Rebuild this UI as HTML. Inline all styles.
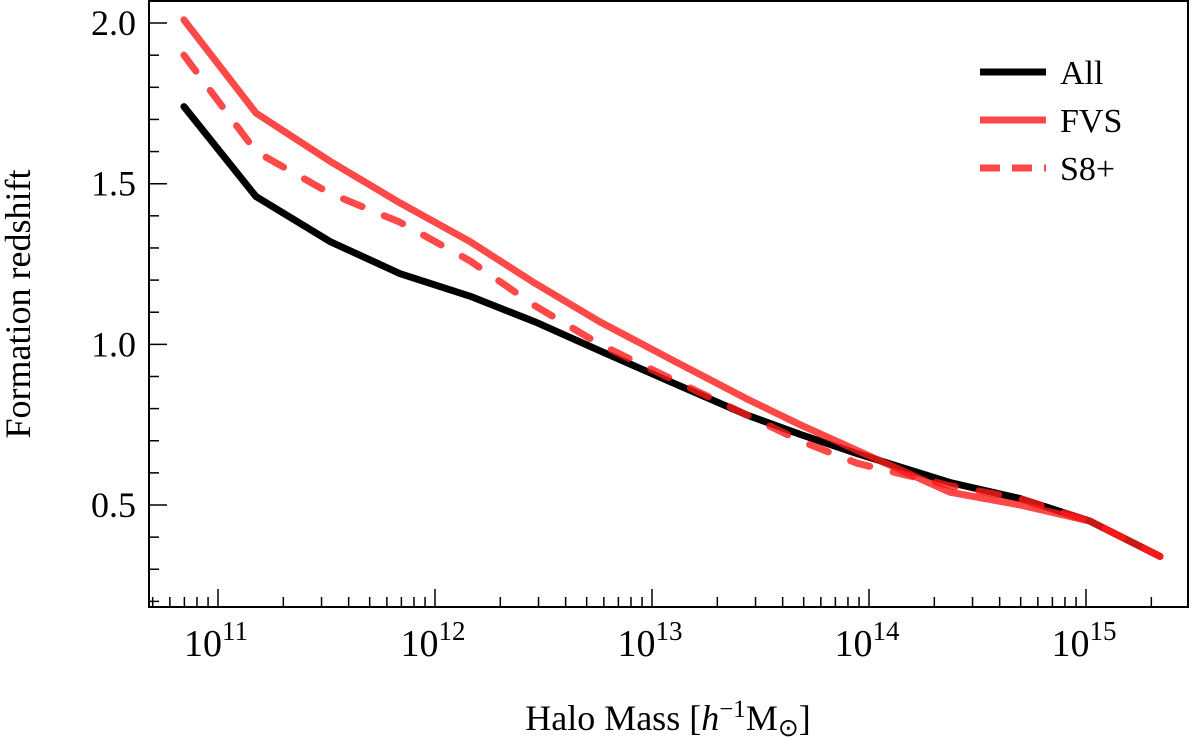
<!DOCTYPE html>
<html><head><meta charset="utf-8"><style>
body{margin:0;background:#fff}
svg text{font-family:"Liberation Serif",serif;fill:#000}
</style></head><body>
<svg id="c" width="1200" height="743"></svg>
<script>
const logMass=[10.843,11.175,11.516,11.839,12.161,12.461,12.76,13.097,13.438,13.682,13.945,14.373,14.696,15.018,15.341];
const allZ=[1.74,1.46,1.32,1.22,1.15,1.07,0.98,0.88,0.78,0.72,0.66,0.57,0.52,0.45,0.34];
const fvsZ=[2.01,1.72,1.57,1.44,1.32,1.19,1.07,0.95,0.83,0.75,0.67,0.54,0.50,0.45,0.34];
const s8Z=[1.90,1.60,1.47,1.38,1.26,1.12,1.00,0.89,0.78,0.70,0.63,0.56,0.52,0.45,0.34];
const yTicks=[0.5,1.0,1.5,2.0];
const xDecades=[11,12,13,14,15];
const svg=document.getElementById('c');const NS='http://www.w3.org/2000/svg';
const L=149,R=1188,T=1,B=607;
const X=l=>218+(l-11)*217, Y=v=>505-(v-0.5)*321.3;
function mk(t,a){const e=document.createElementNS(NS,t);for(const k in a)e.setAttribute(k,a[k]);svg.appendChild(e);return e;}
let e=mk('rect',{x:L,y:T,width:R-L,height:B-T,fill:'none',stroke:'#000','stroke-width':2});


for(let v=0.2;v<=2.06;v+=0.1){const major=yTicks.some(t=>Math.abs(t-v)<1e-6);
 e=mk('line',{x1:L,x2:L+(major?18:10),y1:Y(v),y2:Y(v),stroke:'#000','stroke-width':1.5});
 
 }
yTicks.forEach(v=>{e=mk('text',{x:136,y:Y(v)+12,'text-anchor':'end','font-size':36});e.textContent=v.toFixed(1);
 
 });
for(let d=10;d<=15;d++)for(let k=1;k<10;k++){const l=d+Math.log10(k);const x=X(l);if(x<L||x>R)continue;
 e=mk('line',{x1:x,x2:x,y1:B,y2:B-(k==1?18:10),stroke:'#000','stroke-width':1.5});
 
 }
xDecades.forEach(d=>{e=mk('text',{x:X(d)-2,y:656,'text-anchor':'middle','font-size':38});
 e.innerHTML='10<tspan dy="-16" font-size="27">'+d+'</tspan>';
 
 });
e=mk('text',{x:668,y:730,'text-anchor':'middle','font-size':36});
e.innerHTML='Halo Mass [<tspan font-style="italic">h</tspan><tspan dy="-13" font-size="25">−1</tspan><tspan dy="13">M</tspan><tspan dy="6" font-size="25">⊙</tspan><tspan dy="-6">]</tspan>';


e=mk('text',{x:0,y:0,'text-anchor':'middle','font-size':36,transform:'translate(30,304) rotate(-90)'});
e.textContent='Formation redshift';


function line(vals,col,dash,name){const p=vals.map((v,i)=>X(logMass[i])+','+Y(v)).join(' ');
 const a={points:p,fill:'none',stroke:col,'stroke-width':7,'stroke-linejoin':'round','stroke-linecap':'round'};if(dash)a['stroke-dasharray']=dash;
 if(col!=='#000')a['stroke-opacity']=0.8;
 e=mk('polyline',a);
 
 }
line(allZ,'#000',null,'series-all');
line(s8Z,'#ff1a1a','20,24','series-s8plus');
line(fvsZ,'#ff1a1a',null,'series-fvs');
[['All','#000',null],['FVS','#ff1a1a',null],['S8+','#ff1a1a','20,12']].forEach((s,i)=>{const y=72+i*48;
 const a={x1:980,x2:1046,y1:y,y2:y,stroke:s[1],'stroke-width':7};if(s[2])a['stroke-dasharray']=s[2];
 if(i>0)a['stroke-opacity']=0.8;
 e=mk('line',a);
 
 
 e=mk('text',{x:1060,y:y+12,'font-size':34});e.textContent=s[0];
 
 });
</script>
</body></html>
